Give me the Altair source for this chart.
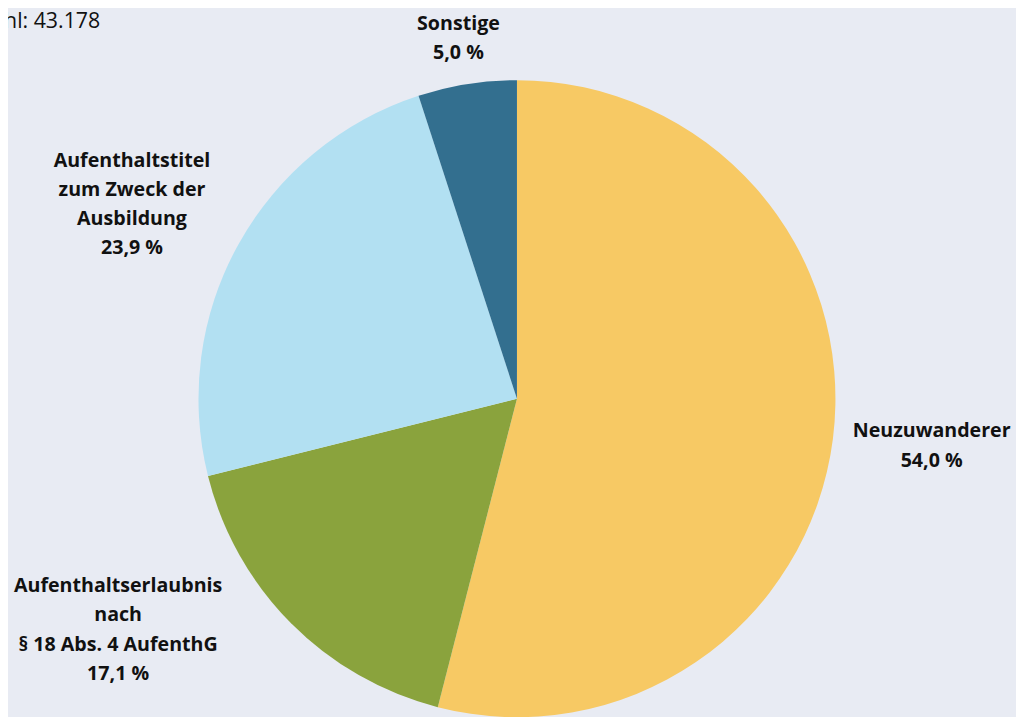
import altair as alt
import pandas as pd

categories = ["Neuzuwanderer", "Aufenthaltserlaubnis nach § 18 Abs. 4 AufenthG",
              "Aufenthaltstitel zum Zweck der Ausbildung", "Sonstige"]
label_lines = [["Neuzuwanderer"],
               ["Aufenthaltserlaubnis", "nach", "§ 18 Abs. 4 AufenthG"],
               ["Aufenthaltstitel", "zum Zweck der", "Ausbildung"],
               ["Sonstige"]]
shares = [54.0, 17.1, 23.9, 5.0]
colors = ["#F7C964", "#8AA33D", "#B2E0F2", "#336F8F"]
total_text = "Gesamtzahl: 43.178"

# label anchor positions (layout only)
label_x = [931, 111, 125, 454]
label_y = [414, 570, 141, 3]

BG = "#E8EBF3"
FONT = "Open Sans"

df = pd.DataFrame({"cat": categories, "share": shares, "order": list(range(len(categories)))})

pie = alt.Chart(df).mark_arc(outerRadius=321, stroke=None).encode(
    theta=alt.Theta("share:Q", stack=True),
    order=alt.Order("order:Q"),
    color=alt.Color("cat:N", scale=alt.Scale(domain=categories, range=colors), legend=None),
    x=alt.value(513),
    y=alt.value(391),
)

layers = [pie]
for lines, s, lx, ly in zip(label_lines, shares, label_x, label_y):
    txt = "\n".join(lines + [f"{s:.1f}".replace(".", ",") + " %"])
    layers.append(
        alt.Chart(pd.DataFrame({"t": [txt]})).mark_text(
            font=FONT, fontSize=19.8, fontWeight="bold", color="#111111",
            align="center", baseline="top", lineBreak="\n", lineHeight=29.5,
        ).encode(text="t:N", x=alt.value(lx), y=alt.value(ly))
    )

layers.append(
    alt.Chart(pd.DataFrame({"t": [total_text]})).mark_text(
        font=FONT, fontSize=21.5, fontWeight=500, color="#111111",
        align="right", baseline="top",
    ).encode(text="t:N", x=alt.value(93), y=alt.value(0))
)

chart = alt.layer(*layers).properties(
    width=1016, height=709, autosize=alt.AutoSizeParams(type="none"), padding=0,
    background=BG,
).configure_view(stroke=None)

chart.save("out.html", embed_options={"renderer": "svg", "actions": False})
